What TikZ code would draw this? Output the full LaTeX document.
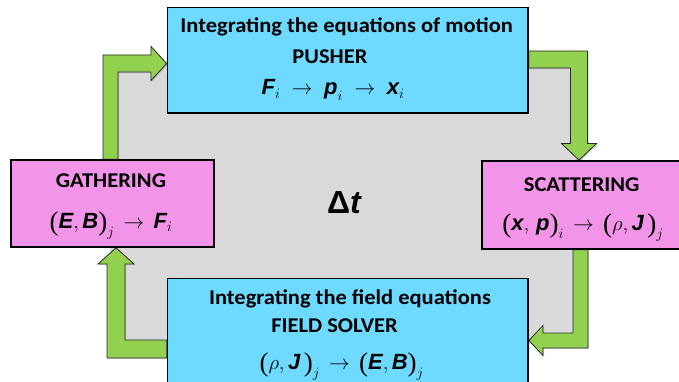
\documentclass[tikz,border=0pt]{standalone}
\usepackage{amsmath}
\usepackage{fontspec}
\setmainfont{Carlito}[FakeStretch=1.07]
\newfontfamily\lsans{Liberation Sans}
\newfontfamily\lserif{Liberation Serif}
\usetikzlibrary{shadows}
\definecolor{boxblue}{RGB}{110,218,255}
\definecolor{boxpink}{RGB}{242,148,232}
\definecolor{arrgreen}{RGB}{146,208,80}
\definecolor{bggray}{RGB}{217,217,217}
\definecolor{arredge}{RGB}{40,40,40}
\newcommand\vv[1]{\mbox{\lsans\bfseries\itshape #1}}
\newcommand\toarr{\;\rightarrow\;}
\newcommand\toarrb{\,\rightarrow\,}
\newcommand\lpar{\mathopen{\raisebox{-2pt}{\lserif\fontsize{27}{27}\selectfont(}}}
\newcommand\rpar{\mathclose{\raisebox{-2pt}{\lserif\fontsize{27}{27}\selectfont)}}}
\pgfdeclarelayer{back}
\pgfdeclarelayer{mid}
\pgfsetlayers{back,mid,main}
\begin{document}
\begin{tikzpicture}[x=1pt,y=-1pt,
  box/.style={draw=black, line width=1.6pt, rectangle, inner sep=0pt},
  lbl/.style={font=\fontsize{21}{25}\selectfont\bfseries, inner sep=0pt, anchor=base, text depth=0pt},
  mathl/.style={font=\fontsize{22}{26}\selectfont, inner sep=0pt, anchor=base, text height=14pt, text depth=2pt},
  blockarrow/.style={fill=arrgreen, draw=arredge, line width=0.8pt, line join=miter,
    drop shadow={shadow xshift=1.2pt, shadow yshift=-1.2pt, opacity=0.3}}]
\useasboundingbox (0,0) rectangle (679,382);
% boxes
\node[box, fill=boxblue, minimum width=360.5pt, minimum height=105.5pt] (push) at (347.75,60.25) {};
\node[box, fill=boxpink, minimum width=203pt, minimum height=87pt] (gath) at (112.5,203.5) {};
\node[box, fill=boxpink, minimum width=201pt, minimum height=88pt] (scat) at (582.5,205) {};
\node[box, fill=boxblue, minimum width=360.5pt, minimum height=141.5pt] (field) at (347.75,349.25) {};
\begin{pgfonlayer}{back}
\fill[white] (0,0) rectangle (679,382);
\fill[bggray] (110,63) rectangle (580,341);
\end{pgfonlayer}
\begin{pgfonlayer}{mid}
% gathering -> pusher
\filldraw[blockarrow] (103,0 |- gath.north) -- (103,55) -- (151,55) -- (151,46.5)
  -- (push.west |- 0,63.5) -- (151,80.5) -- (151,72) -- (118,72) -- (118,0 |- gath.north) -- cycle;
% pusher -> scattering
\filldraw[blockarrow] (push.east |- 0,51) -- (587.5,51) -- (587.5,143.5) -- (596.5,143.5)
  -- (579,0 |- scat.north) -- (561.5,143.5) -- (570.5,143.5) -- (570.5,68) -- (push.east |- 0,68) -- cycle;
% scattering -> field solver
\filldraw[blockarrow] (573,0 |- scat.south) -- (588,0 |- scat.south) -- (588,348) -- (543,348) -- (543,355.5)
  -- (field.east |- 0,340.5) -- (543,325.5) -- (543,333) -- (573,333) -- cycle;
% field solver -> gathering
\filldraw[blockarrow] (field.west |- 0,340) -- (125,340) -- (125,264) -- (134,264)
  -- (116,0 |- gath.south) -- (98,264) -- (107,264) -- (107,358) -- (field.west |- 0,358) -- cycle;
\end{pgfonlayer}
% texts
\node[lbl] (pushT1) at (346.7,33) {Integrating the equations of motion};
\node[lbl] (pushT2) at (330,63.3) {PUSHER};
\node[mathl] (pushM) at (333,95) {$\vv{F}_i \toarr \vv{p}_i \toarr \vv{x}_i$};
\node[lbl] (gathT) at (111,187.3) {GATHERING};
\node[mathl] (gathM) at (111,228.3) {$\lpar\vv{E},\vv{B}\rpar_j \toarrb \vv{F}_i$};
\node[lbl] (scatT) at (581.7,191.7) {SCATTERING};
\node[mathl] (scatM) at (583,230) {$\lpar\vv{x},\,\vv{p}\rpar_i \toarrb \lpar\rho,\vv{J}\,\rpar_j$};
\node[lbl] (fieldT1) at (350,304.3) {Integrating the field equations};
\node[lbl] (fieldT2) at (334.5,332.7) {FIELD SOLVER};
\node[mathl] (fieldM) at (341.7,369.3) {$\lpar\rho,\vv{J}\,\rpar_j \toarrb \lpar\vv{E},\vv{B}\rpar_j$};
\node[inner sep=0pt, anchor=base, font=\fontsize{32}{36}\selectfont] (dt) at (344,213) {\lsans\bfseries Δ\itshape t};
\end{tikzpicture}
\end{document}
